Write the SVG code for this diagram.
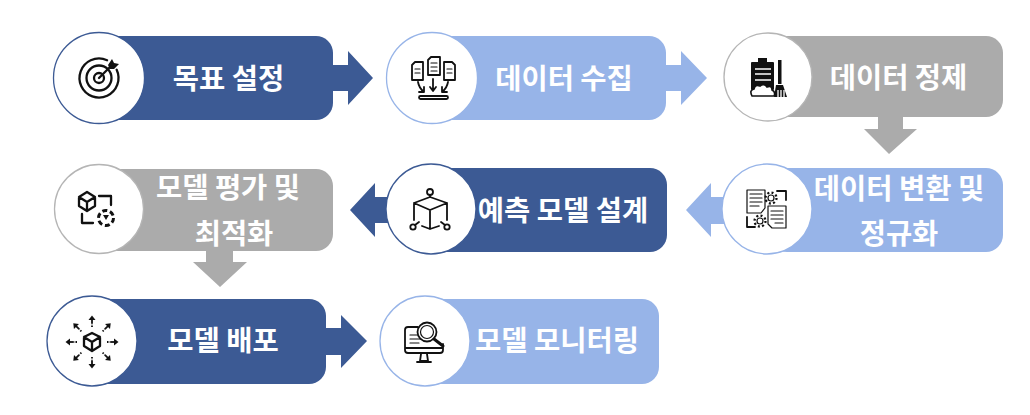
<svg xmlns="http://www.w3.org/2000/svg" width="1030" height="415" viewBox="0 0 1030 415">
<defs>
<style>
.dark{fill:#3c5a94}.light{fill:#97b4e8}.gray{fill:#ababab}
.cd{fill:#fff;stroke:#3c5a94;stroke-width:1.3}.cl{fill:#fff;stroke:#97b4e8;stroke-width:1.3}.cg{fill:#fff;stroke:#b5b5b5;stroke-width:1.3}
.t{font-family:"Noto Sans CJK KR","Noto Sans",sans-serif;font-weight:700;font-size:28.5px;fill:#fff;text-anchor:middle}
.i{fill:none;stroke:#111;stroke-width:1.8;stroke-linecap:round;stroke-linejoin:round}
.s1{stroke-width:1.2}.s2{stroke-width:2.3}.s3{stroke-width:3}.b{stroke-linecap:butt}
.w{fill:none;stroke:#fff;stroke-width:1.3}
.k{fill:#111}
</style>
<g id="ray"><path class="i b" d="M0 -15V-18.500" stroke-dasharray="1.500 1.200"/><path class="i b" d="M0 -18.500V-22.500"/><path class="k" d="M-3.500 -22L0 -26.500L3.500 -22Z"/></g>
</defs>
<rect width="1030" height="415" fill="#fff"/>
<g id="connectors">
<path class="dark" d="M330 65H348V51L373 78L348 105V91H330Z"/>
<path class="light" d="M663 65H681V51L707 78L681 105V91H663Z"/>
<path class="gray" d="M878 114V129H864L889 154L917 129H903V114Z"/>
<path class="light" d="M730 197H711V183L686 210L711 237V224H730Z"/>
<path class="dark" d="M395 197H375V183L350 210L375 237V223H395Z"/>
<path class="gray" d="M206 248V262H193L220 287L247 262H233V248Z"/>
<path class="dark" d="M323 328H341V315L367 341L341 368V355H323Z"/>
</g>
<g id="node-1">
<rect class="dark" x="95" y="36" width="238" height="84" rx="17"/>
<circle class="cd" cx="99" cy="78" r="45.5"/>
<circle class="i s2" cx="99" cy="78" r="19.5" stroke-dasharray="108 15" transform="rotate(-25 99 78)"/>
<circle class="i s2" cx="99" cy="78" r="12.5"/>
<circle class="i s2" cx="99" cy="78" r="5"/>
<path class="i s2" d="M99 78L113 64"/>
<path class="k" d="M108 65L112 59L114 63L119 64L114 69L110 69Z"/>
<text class="t" x="228.500" y="88.500">목표 설정</text>
</g>
<g id="node-2">
<rect class="light" x="430" y="36" width="236" height="84" rx="17"/>
<circle class="cl" cx="432" cy="78" r="45.5"/>
<path class="i" d="M412 65L415 62H423V80H412ZM428 60L431 57H440V75H428ZM444 62H452L455 65V80H444Z"/>
<path class="i s1" d="M415 69H420M415 73H420M431 63H437M431 67H437M431 71H437M447 69H452M447 73H452"/>
<path class="i" d="M433 79V90M430 87L433 91L436 87M418 82Q419 88 424 92M419 92H424V87M448 82Q447 88 442 92M447 92H442V87"/>
<rect class="i" x="419" y="96" width="29" height="3" rx="1.5"/>
<text class="t" x="564" y="88.500">데이터 수집</text>
</g>
<g id="node-3">
<rect class="gray" x="770" y="36" width="233" height="81" rx="17"/>
<circle class="cg" cx="768" cy="77" r="44"/>
<rect class="k" x="751" y="62" width="23" height="28" rx="1"/>
<rect class="k" x="758" y="58" width="9" height="6"/>
<path class="w" d="M755 69H771M755 74H771M755 80H771"/>
<path d="M752 96Q749 90 754 89Q755 84 760 86Q764 83 767 87Q772 85 772 90Q776 92 774 96Z" fill="#fff" stroke="#111" stroke-width="1.6"/>
<rect class="k" x="778" y="60" width="3.500" height="24"/>
<path class="k" d="M776 85H783L787 97H774Z"/>
<path class="w" d="M778 90V97M781 90V97M784 90V97"/>
<text class="t" x="898.500" y="87.500">데이터 정제</text>
</g>
<g id="node-4">
<rect class="light" x="770" y="168" width="233" height="84" rx="17"/>
<circle class="cl" cx="767" cy="209" r="45"/>
<path class="i s1" d="M747 190H765V208L761 213H747ZM768 206H786V228H772L768 224Z"/>
<path class="i s1" d="M750 194H762M750 198H762M750 202H762M750 206H759M771 211H783M771 215H783M771 219H783M775 223H783"/>
<circle class="i s1" cx="771" cy="198" r="3"/><circle class="i s2 b" cx="771" cy="198" r="5.500" stroke-dasharray="2 2.300"/>
<circle class="i s1" cx="760" cy="221" r="3"/><circle class="i s2 b" cx="760" cy="221" r="5.500" stroke-dasharray="2 2.300"/>
<path class="i" d="M777 191H786V200M747 217V227H755"/>
<text class="t" x="899" y="198.500">데이터 변환 및</text>
<text class="t" x="899" y="243.500">정규화</text>
</g>
<g id="node-5">
<rect class="dark" x="430" y="168" width="237" height="84" rx="17"/>
<circle class="cd" cx="431" cy="209" r="45"/>
<circle class="i" cx="430" cy="192" r="3"/>
<path class="i" d="M430 195V197M414 203L430 197L447 203L430 210ZM430 210V229M414 203V220M447 203V220M422 226L430 229L439 226M415 225L419 222M445 225L441 222"/>
<circle class="i" cx="413" cy="227" r="2.700"/><circle class="i" cx="447" cy="227" r="2.700"/>
<text class="t" x="563" y="220.500">예측 모델 설계</text>
</g>
<g id="node-6">
<rect class="gray" x="100" y="169" width="233" height="82" rx="17"/>
<circle class="cg" cx="99" cy="209" r="44.5"/>
<path class="i s2" d="M87 192L95 197V206L87 211L79 206V197ZM79 197L87 202L95 197M87 202V211M99 196H111V205M82 214V223H93"/>
<circle class="i s3 b" cx="106" cy="218" r="7.500" stroke-dasharray="5 2.850"/>
<path class="k" d="M103 215H109L106 220Z"/>
<text class="t" x="228" y="197.500">모델 평가 및</text>
<text class="t" x="234" y="243.500">최적화</text>
</g>
<g id="node-7">
<rect class="dark" x="90" y="299" width="236" height="85" rx="17"/>
<circle class="cd" cx="92" cy="341" r="45"/>
<path class="i s2" d="M92 333L100 337V346L92 351L84 346V337ZM84 337L92 342L100 337M92 342V351"/>
<use href="#ray" transform="translate(92 342)"/>
<use href="#ray" transform="translate(92 342) rotate(45)"/>
<use href="#ray" transform="translate(92 342) rotate(90)"/>
<use href="#ray" transform="translate(92 342) rotate(135)"/>
<use href="#ray" transform="translate(92 342) rotate(180)"/>
<use href="#ray" transform="translate(92 342) rotate(225)"/>
<use href="#ray" transform="translate(92 342) rotate(270)"/>
<use href="#ray" transform="translate(92 342) rotate(315)"/>
<text class="t" x="223" y="350.500">모델 배포</text>
</g>
<g id="node-8">
<rect class="light" x="425" y="299" width="234" height="85" rx="17"/>
<circle class="cl" cx="425" cy="341" r="45"/>
<path class="i" d="M418 327H408Q405 327 405 330V350Q405 353 408 353H440Q443 353 443 350V344M405 348H443M421 354L420 361H428L427 354M417 362H431"/>
<path class="i s1" d="M410 335H417M410 339H421M410 343H419"/>
<circle class="i" cx="427" cy="332" r="9.500"/>
<circle class="i s1" cx="427" cy="332" r="6.500"/>
<path class="i s3" d="M434 339L443 346"/>
<text class="t" x="557" y="350.500">모델 모니터링</text>
</g>
</svg>
